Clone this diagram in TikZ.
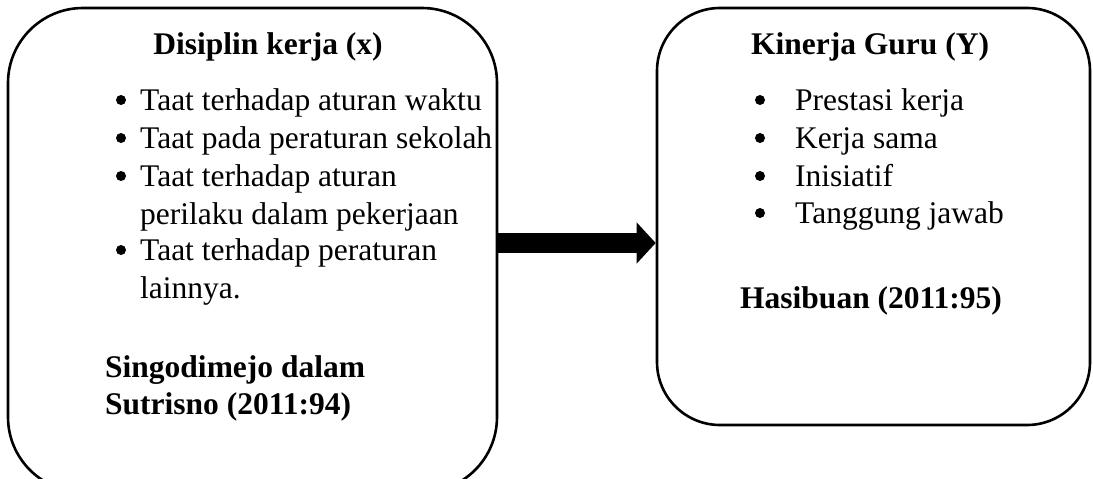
\documentclass[tikz,border=0pt]{standalone}
\usepackage{fontspec}
\setmainfont{Liberation Serif}
\usetikzlibrary{arrows.meta}
\begin{document}
\begin{tikzpicture}[x=1pt,y=-1pt,
  panel/.style={draw, line width=2.6pt, rounded corners=#1, inner sep=0pt},
  txt/.style={inner sep=0pt, anchor=base west, font=\fontsize{31.5}{37.7}\selectfont},
  head/.style={inner sep=0pt, anchor=base, font=\fontsize{31.5}{37.7}\selectfont\bfseries},
  cite/.style={txt, font=\fontsize{31.5}{37.7}\selectfont\bfseries},
  dot/.style={fill=black}
]
\useasboundingbox (0,0) rectangle (1093,479);
\clip (0,0) rectangle (1093,479);

% the two panels
\node[panel=75pt, minimum width=489pt, minimum height=484pt] (L) at (252.5,250) {};
\node[panel=63pt, minimum width=433pt, minimum height=417pt] (R) at (873.5,216.5) {};

% connecting arrow
\draw[line width=20pt, -{Triangle[length=19pt,width=40pt]}] (L.east |- 0,243) -- (R.west |- 0,243);

% left panel
\node[head] (lt) at (268,54) {Disiplin kerja (x)};
\foreach \y/\t [count=\i] in {110/Taat terhadap aturan waktu,148/Taat pada peraturan sekolah,186/Taat terhadap aturan,224/perilaku dalam pekerjaan,260/Taat terhadap peraturan,298/lainnya.}
  \node[txt] (l\i) at (140,\y) {\t};
\foreach \y [count=\i] in {110,148,186,260}
  \fill[dot] (121,\y-10) circle (5pt);
\node[cite] (lc1) at (105,377) {Singodimejo dalam};
\node[cite] (lc2) at (105,414) {Sutrisno (2011:94)};

% right panel
\node[head] (rt) at (870,54) {Kinerja Guru (Y)};
\foreach \y/\t [count=\i] in {110/Prestasi kerja,148/Kerja sama,186/Inisiatif,223/Tanggung jawab}
  {\node[txt] (r\i) at (795,\y) {\t};
   \fill[dot] (760,\y-10) circle (5pt);}
\node[cite] (rc) at (740,308) {Hasibuan (2011:95)};
\end{tikzpicture}
\end{document}
